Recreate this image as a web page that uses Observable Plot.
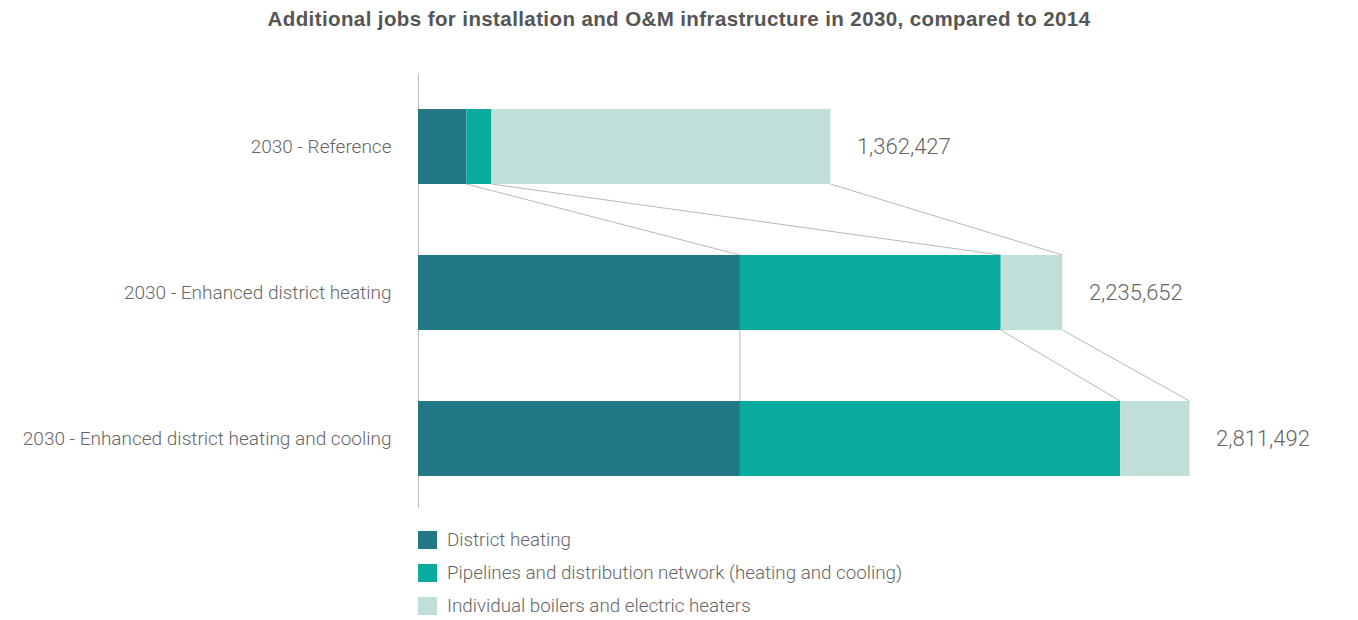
<!DOCTYPE html>
<html>
<head>
<meta charset="utf-8">
<script src="https://cdn.jsdelivr.net/npm/d3@7"></script>
<script src="https://cdn.jsdelivr.net/npm/@observablehq/plot@0.6"></script>
<style>
  html, body { margin: 0; padding: 0; background: #fff; }
  body { width: 1358px; height: 620px; position: relative; font-family: Roboto, "Noto Sans", sans-serif; overflow: hidden; }
  #title { position: absolute; left: 0; top: 7px; width: 1358px; text-align: center; font-family: "Liberation Sans", Arial, sans-serif; font-size: 20.5px; letter-spacing: 0.4px; font-weight: 700; color: #555; }
  #chart { position: absolute; left: 0; top: 40px; }
  #legend { position: absolute; left: 418px; top: 523px; font-size: 18.8px; font-weight: 300; color: #666; }
  .row { display: flex; align-items: center; height: 33px; }
  .sw { width: 19px; height: 18px; margin-right: 10px; }
</style>
</head>
<body>
<div id="title">Additional jobs for installation and O&amp;M infrastructure in 2030, compared to 2014</div>
<div id="chart"></div>
<div id="legend"></div>
<script>
const categories = ["2030 - Reference", "2030 - Enhanced district heating", "2030 - Enhanced district heating and cooling"];
const series = ["District heating", "Pipelines and distribution network (heating and cooling)", "Individual boilers and electric heaters"];
const colors = ["#227886", "#0aab9f", "#c0dfd9"];
const districtHeating = [168000, 1117000, 1117000];
const pipelines = [87000, 905000, 1319000];
const individual = [1176000, 214000, 241000];
const totalLabels = ["1,362,427", "2,235,652", "2,811,492"];

const seriesValues = [districtHeating, pipelines, individual];
const table = [];
categories.forEach((c, i) => series.forEach((s, j) => table.push({category: c, series: s, value: seriesValues[j][i]})));

// cumulative segment ends per bar
const cum = categories.map((c, i) => {
  let acc = 0;
  return series.map((s, j) => (acc += seriesValues[j][i]));
});
const totals = categories.map((c, i) => ({category: c, total: cum[i][series.length - 1], label: totalLabels[i]}));

const connectors = [];
for (let i = 0; i < categories.length - 1; i++) {
  for (let j = 0; j < series.length; j++) {
    connectors.push({from: categories[i], to: categories[i + 1], x1: cum[i][j], x2: cum[i + 1][j]});
  }
}

function connectorMark(index, scales) {
  const x = scales.x, y = scales.y;
  let bw = typeof y.bandwidth === "function" ? y.bandwidth() : y.bandwidth;
  const g = d3.create("svg:g").attr("stroke", "#b8b8b8").attr("stroke-width", 1).attr("fill", "none");
  for (const c of connectors) {
    g.append("line")
      .attr("x1", x(c.x1)).attr("y1", y(c.from) + bw)
      .attr("x2", x(c.x2)).attr("y2", y(c.to));
  }
  return g.node();
}

const plot = Plot.plot({
  width: 1358,
  height: 480,
  marginLeft: 418,
  marginRight: 75.4,
  marginTop: 35,
  marginBottom: 10,
  style: {fontFamily: "Roboto, 'Noto Sans', sans-serif", color: "#666", background: "#fff"},
  x: {domain: [0, 3000000], axis: null},
  y: {domain: categories, paddingInner: 71 / 146, paddingOuter: 34 / 146, label: null, tickSize: 0, tickPadding: 27},
  color: {domain: series, range: colors},
  marks: [
    Plot.axisY({tickSize: 0, tickPadding: 27, fontSize: 19, fontWeight: 300, fill: "#666", label: null}),
    Plot.ruleX([0], {stroke: "#bbb", strokeWidth: 1, insetTop: -2, insetBottom: 2}),
    connectorMark,
    Plot.barX(table, {x: "value", y: "category", fill: "series"}),
    Plot.text(totals, {x: "total", y: "category", text: "label", dx: 26, textAnchor: "start", fontSize: 22, fontWeight: 300, fill: "#666"})
  ]
});
document.getElementById("chart").appendChild(plot);

const legend = document.getElementById("legend");
series.forEach((s, i) => {
  const row = document.createElement("div");
  row.className = "row";
  const sw = document.createElement("div");
  sw.className = "sw";
  sw.style.background = colors[i];
  const t = document.createElement("span");
  t.textContent = s;
  row.appendChild(sw);
  row.appendChild(t);
  legend.appendChild(row);
});
</script>
</body>
</html>
